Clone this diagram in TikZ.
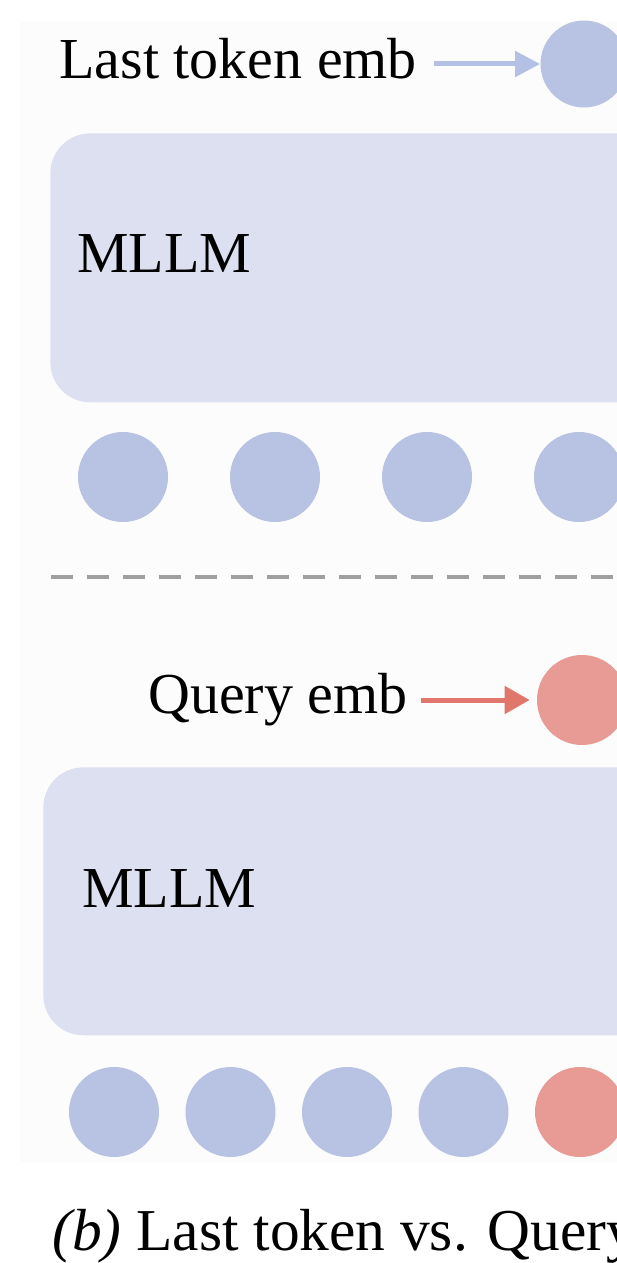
\documentclass[tikz,border=0pt]{standalone}
\usepackage{fontspec}
\setmainfont{Liberation Serif}
\usetikzlibrary{arrows.meta,positioning}
\definecolor{embblue}{HTML}{B8C3E3}
\definecolor{embred}{HTML}{E89A94}
\definecolor{arrowred}{HTML}{E0766C}
\definecolor{arrowblue}{HTML}{B4C0E4}
\definecolor{llmfill}{HTML}{DCE0F1}
\definecolor{panelfill}{HTML}{FCFCFC}
\tikzset{
  lbl/.style={inner sep=0pt, anchor=base west, font=\fontsize{33}{39}\selectfont},
  caplbl/.style={inner sep=0pt, anchor=base west, font=\fontsize{33.8}{40}\selectfont},
  tok/.style={circle, fill=embblue, minimum size=1.8cm, inner sep=0pt},
  qtok/.style={circle, fill=embred, minimum size=1.8cm, inner sep=0pt},
  outemb/.style={circle, fill=embblue, minimum size=1.74cm, inner sep=0pt},
  qemb/.style={circle, fill=embred, minimum size=1.8cm, inner sep=0pt},
  llmbox/.style={fill=llmfill, rounded corners=0.8cm, anchor=north west, minimum width=14cm, minimum height=5.38cm, inner sep=0pt},
  bluearrow/.style={-{Triangle[length=0.5cm,width=0.5cm]}, line width=0.1cm, arrowblue},
  redarrow/.style={-{Triangle[length=0.5cm,width=0.54cm]}, line width=0.1cm, arrowred},
  sep/.style={dash pattern=on 0.44cm off 0.28cm, line width=0.08cm, gray!75}
}
\begin{document}
\begin{tikzpicture}[x=0.02cm, y=-0.02cm]
  \useasboundingbox (0,0) rectangle (616,1263);
  \fill[panelfill] (20,22) rectangle (700,1162);

  % last token pooling
  \node[outemb] (lastemb) at (584,64) {};
  \node[lbl] (lastlbl) at (59,79) {Last token emb};
  \draw[bluearrow, shorten <=0.33cm] (lastlbl.east |- lastemb) -- (lastemb);
  \node[llmbox] (llmA) at (50,133) {};
  \node[lbl] (llmAlbl) at (77,273) {MLLM};
  \foreach \i/\x in {1/123,2/275,3/427,4/579}
    \node[tok] (a\i) at (\x,477) {};

  \draw[sep] (51,577) -- (650,577);

  % query token pooling
  \node[qemb] (qemb) at (582,700) {};
  \node[lbl] (qlbl) at (148,713) {Query emb};
  \draw[redarrow, shorten <=0.26cm, shorten >=0.14cm] (qlbl.east |- qemb) -- (qemb);
  \node[llmbox, minimum height=5.36cm] (llmB) at (43,767) {};
  \node[lbl] (llmBlbl) at (82,907) {MLLM};
  \foreach \i/\x in {1/114,2/230.5,3/347,4/463.5}
    \node[tok] (b\i) at (\x,1112) {};
  \node[qtok] (b5) at (580,1112) {};

  \node[caplbl] (cap) at (52,1250) {\textit{(b)} Last token vs. Query};
\end{tikzpicture}
\end{document}
